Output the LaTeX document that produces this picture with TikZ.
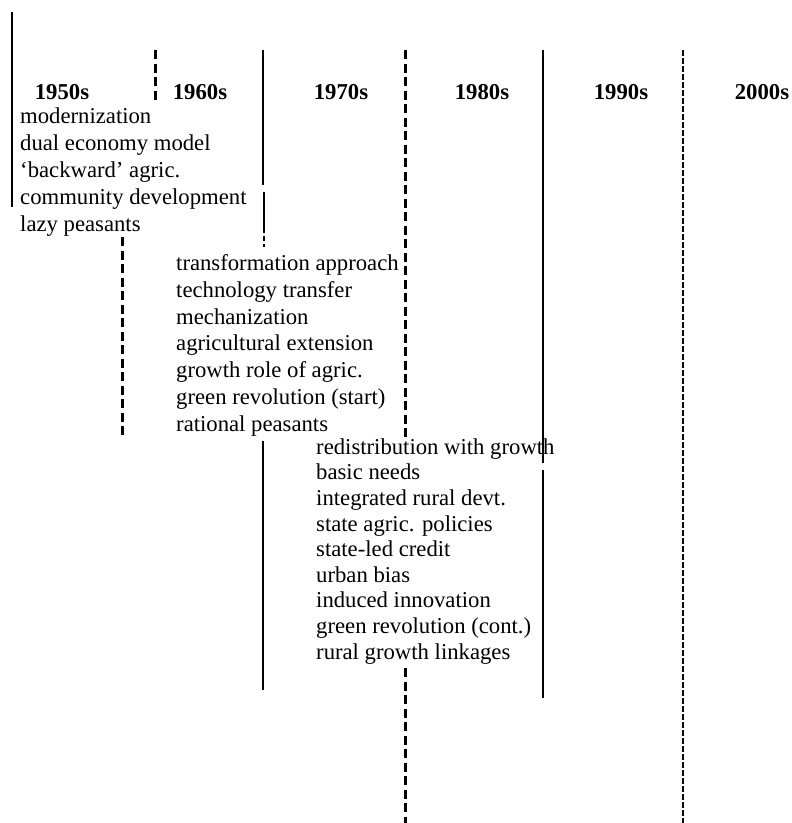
\documentclass[tikz,border=0pt]{standalone}
\usepackage{fontspec}
\setmainfont{Liberation Serif}
\usepackage{tikz}
\usetikzlibrary{positioning}
\tikzstyle{decade} = [font=\fontsize{22.7}{26}\selectfont\bfseries, anchor=base, inner sep=0pt]
\tikzstyle{topics} = [font=\fontsize{22.7}{#1}\selectfont, align=left, anchor=base west, inner sep=0pt]
\tikzstyle{divider} = [line width=2pt]
\tikzstyle{dividerDash} = [line width=3pt, dash pattern=on 9pt off 4.5pt]
\tikzstyle{dividerFine} = [line width=1.8pt, dash pattern=on 6pt off 2pt]
\begin{document}
\begin{tikzpicture}[x=1pt, y=-1pt]
    \useasboundingbox (0,0) rectangle (792,823);

    % Decades
    \node[decade] (d1950) at (62,99) {1950s};
    \node[decade] (d1960) at (200,99) {1960s};
    \node[decade] (d1970) at (341,99) {1970s};
    \node[decade] (d1980) at (482,99) {1980s};
    \node[decade] (d1990) at (621,99) {1990s};
    \node[decade] (d2000) at (762,99) {2000s};

    % Topics per period (placed at the baseline of their last line)
    \node[topics=27] (b1950) at (20,231) {modernization\\dual economy model\\`backward' agric.\\community development\\lazy peasants};
    \node[topics=26.7] (b1960) at (176,431) {transformation approach\\technology transfer\\mechanization\\agricultural extension\\growth role of agric.\\green revolution (start)\\rational peasants};
    \node[topics=25.6] (b1970) at (316,659) {redistribution with growth\\basic needs\\integrated rural devt.\\state agric. policies\\state-led credit\\urban bias\\induced innovation\\green revolution (cont.)\\rural growth linkages};

    % Dividers
    \draw[divider] (12,12) -- (12,207);
    \draw[dividerDash] (155,50) -- (155,100);
    \draw[divider] (263,50) -- (263,185);
    \draw[divider] (264,192) -- (264,228);
    \draw[line width=1.5pt, dash pattern=on 5pt off 3pt] (264,228) -- (264,247);
    \draw[dividerDash] (122,237) -- (122,437);
    \draw[dividerDash] (405,50) -- (405,438);
    \draw[divider] (263,441) -- (263,690);
    \draw[dividerDash] (405,668) -- (405,823);
    \draw[divider] (543,50) -- (543,463);
    \draw[divider] (543,470) -- (543,698);
    \draw[dividerFine] (683,50) -- (683,823);
\end{tikzpicture}
\end{document}
